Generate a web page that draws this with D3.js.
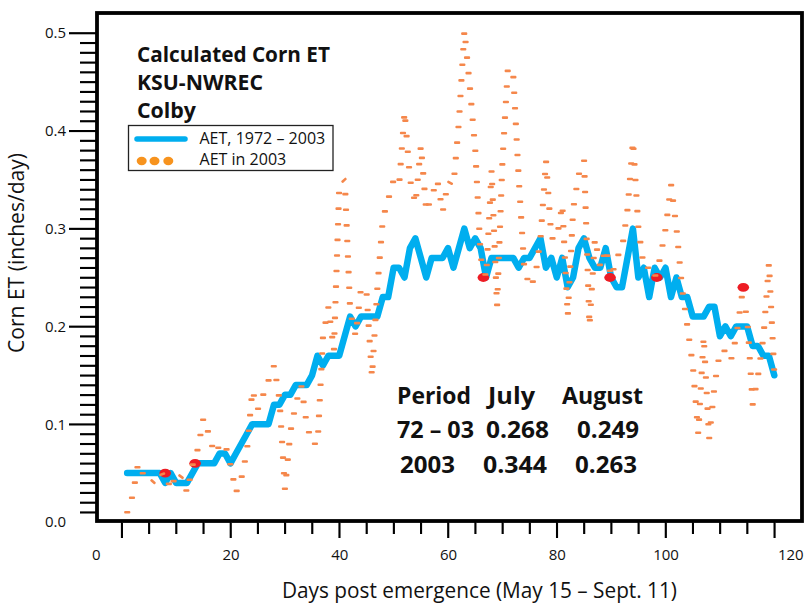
<!DOCTYPE html>
<html>
<head>
<meta charset="utf-8">
<title>Calculated Corn ET - KSU-NWREC Colby</title>
<script src="https://d3js.org/d3.v7.min.js"></script>
<style>
  body { margin: 0; background: #fff; }
  svg { display: block; font-family: 'Open Sans', sans-serif; }
  .tick text { font-size: 15px; fill: #111; font-family: 'Open Sans', sans-serif; }
  .domain { display: none; }
  .big { font-weight: bold; font-size: 21px; fill: #111; }
  .table { font-weight: bold; font-size: 23px; fill: #111; }
  .legend-text { font-size: 15.5px; fill: #111; }
  .axis-title { font-size: 21px; fill: #111; }
</style>
</head>
<body>
<svg id="chart" width="805" height="603"></svg>
<script>
// days post emergence (May 15 = day 1)
var firstDay = 1;

// AET, 1972 - 2003 average (inches/day), one value per day
var aetMean = [
  0.05, 0.05, 0.05, 0.05, 0.05, 0.05, 0.05, 0.04, 0.05, 0.04,
  0.04, 0.04, 0.05, 0.06, 0.06, 0.06, 0.06, 0.07, 0.07, 0.06,
  0.07, 0.08, 0.09, 0.10, 0.10, 0.10, 0.10, 0.12, 0.12, 0.13,
  0.13, 0.14, 0.14, 0.14, 0.15, 0.17, 0.16, 0.17, 0.17, 0.17,
  0.19, 0.21, 0.20, 0.21, 0.21, 0.21, 0.21, 0.23, 0.23, 0.26,
  0.26, 0.25, 0.28, 0.29, 0.27, 0.25, 0.27, 0.27, 0.27, 0.28,
  0.26, 0.28, 0.30, 0.28, 0.29, 0.28, 0.25, 0.27, 0.27, 0.27,
  0.27, 0.27, 0.26, 0.27, 0.27, 0.28, 0.29, 0.26, 0.27, 0.25,
  0.27, 0.24, 0.25, 0.28, 0.29, 0.27, 0.26, 0.26, 0.28, 0.25,
  0.24, 0.24, 0.27, 0.30, 0.25, 0.26, 0.23, 0.26, 0.25, 0.26,
  0.23, 0.25, 0.23, 0.23, 0.21, 0.21, 0.21, 0.22, 0.22, 0.19,
  0.20, 0.19, 0.20, 0.20, 0.20, 0.18, 0.18, 0.17, 0.17, 0.15
];

// AET in 2003 (inches/day), one value per day
var aet2003 = [
  0.010, 0.027, 0.060, 0.048, 0.045, 0.040, 0.048, 0.050, 0.033, 0.050,
  0.046, 0.030, 0.058, 0.075, 0.106, 0.090, 0.070, 0.078, 0.080, 0.058,
  0.030, 0.045, 0.072, 0.135, 0.115, 0.130, 0.145, 0.160, 0.125, 0.033,
  0.092, 0.121, 0.140, 0.100, 0.080, 0.080, 0.190, 0.220, 0.175, 0.345,
  0.350, 0.215, 0.190, 0.240, 0.235, 0.148, 0.240, 0.310, 0.330, 0.350,
  0.345, 0.420, 0.350, 0.325, 0.385, 0.317, 0.333, 0.350, 0.317, 0.348,
  0.345, 0.410, 0.503, 0.445, 0.380, 0.270, 0.250, 0.360, 0.220, 0.370,
  0.465, 0.455, 0.350, 0.260, 0.240, 0.250, 0.290, 0.370, 0.290, 0.290,
  0.325, 0.210, 0.320, 0.355, 0.370, 0.200, 0.290, 0.260, 0.280, 0.250,
  0.270, 0.280, 0.320, 0.390, 0.300, 0.260, 0.260, 0.250, 0.270, 0.300,
  0.345, 0.300, 0.240, 0.200, 0.160, 0.090, 0.190, 0.085, 0.140, 0.175,
  0.175, 0.165, 0.190, 0.230, 0.210, 0.120, 0.150, 0.190, 0.265, 0.150
];

// red markers on the chart
var markerDays = [8, 13.5, 66.5, 89.8, 98.4, 114.3];
var markerValues = [0.05, 0.06, 0.25, 0.25, 0.25, 0.24];

// axis ticks
var xMajorTicks = [0, 20, 40, 60, 80, 100, 120];
var xMinorTicks = [5, 10, 15, 25, 30, 35, 45, 50, 55, 65, 70, 75, 85, 90, 95, 105, 110, 115];
var yMajorTicks = [0, 0.1, 0.2, 0.3, 0.4, 0.5];

// text blocks
var titleLines = ["Calculated Corn ET", "KSU-NWREC", "Colby"];
var legendLabels = ["AET, 1972 \u2013 2003", "AET in 2003"];
var tableRows = [
  ["Period", "July", "August"],
  ["72 \u2013 03", "0.268", "0.249"],
  ["2003", "0.344", "0.263"]
];

var svg = d3.select("#chart");

// frame of the plot
var box = { left: 97, right: 802, top: 13, bottom: 521 };

var x = d3.scaleLinear().domain([0, 120]).range([121.7, 774.3]);
var y = d3.scaleLinear().domain([0, 0.5]).range([522, 33]);

var yMinorTicks = d3.range(1, 51).map(function(i) { return i / 100; })
  .filter(function(v) { return Math.round(v * 100) % 10 !== 0; });

// axes (labels + their own ticks)
svg.append("g")
  .attr("transform", "translate(96,0)")
  .call(d3.axisLeft(y).tickValues(yMinorTicks).tickSize(16).tickFormat(""));

var yAxis = svg.append("g")
  .attr("transform", "translate(96,0)")
  .call(d3.axisLeft(y).tickValues(yMajorTicks).tickSize(27).tickPadding(3).tickFormat(d3.format(".1f")));
yAxis.selectAll(".tick").filter(function(d) { return d === 0; }).select("line").remove();

svg.append("g")
  .attr("transform", "translate(0,523)")
  .call(d3.axisBottom(x).tickValues(xMinorTicks).tickSize(11).tickFormat(""));

var xAxis = svg.append("g")
  .attr("transform", "translate(0,523)")
  .call(d3.axisBottom(x).tickValues(xMajorTicks).tickSize(15).tickPadding(11).tickFormat(d3.format("d")));
// end labels sit off their ticks in the original
xAxis.selectAll(".tick text")
  .attr("dx", function(d) { return d === 0 ? -26 : (d === 120 ? 16 : 0); });

svg.selectAll(".tick line")
  .attr("stroke", "#000")
  .attr("stroke-width", 1.6);

// plot frame
svg.append("rect")
  .attr("x", box.left).attr("y", box.top)
  .attr("width", box.right - box.left).attr("height", box.bottom - box.top)
  .attr("fill", "none").attr("stroke", "#000").attr("stroke-width", 3.8);

// average AET line
var line = d3.line()
  .x(function(d, i) { return x(firstDay + i); })
  .y(function(d) { return y(d); });

svg.append("path")
  .datum(aetMean)
  .attr("d", line)
  .attr("fill", "none")
  .attr("stroke", "#00aeef")
  .attr("stroke-width", 6.5)
  .attr("stroke-linejoin", "round")
  .attr("stroke-linecap", "round");

// red markers
svg.append("g").selectAll("ellipse")
  .data(markerDays)
  .enter().append("ellipse")
  .attr("cx", function(d) { return x(d); })
  .attr("cy", function(d, i) { return y(markerValues[i]); })
  .attr("rx", 5.8).attr("ry", 4.4)
  .attr("fill", "#ed1c24");

// 2003 series: dotted line, dots walked along the path
var pts = aet2003.map(function(v, i) { return [x(firstDay + i), y(v)]; });
var step = 12.5, k = 0.8, next = 0, dots = [];
for (var i = 0; i < pts.length - 1; i++) {
  var p0 = pts[i], p1 = pts[i + 1];
  var dx = p1[0] - p0[0], dy = p1[1] - p0[1];
  var L = Math.sqrt(dx * dx + k * k * dy * dy);
  var ang = Math.abs(dy) < Math.abs(dx) ? Math.atan2(dy, dx) * 180 / Math.PI : 0;
  while (next <= L) {
    var t = next / L;
    dots.push({ x: p0[0] + dx * t, y: p0[1] + dy * t, a: ang });
    next += step;
  }
  next -= L;
}

svg.append("g").selectAll("rect")
  .data(dots)
  .enter().append("rect")
  .attr("x", function(d) { return d.x - 3; })
  .attr("y", function(d) { return d.y - 1.3; })
  .attr("width", 6.2).attr("height", 2.6)
  .attr("rx", 1)
  .attr("transform", function(d) { return "rotate(" + d.a + "," + d.x + "," + d.y + ")"; })
  .attr("fill", "#f5874b");

// title
var titleWidths = [193, 126, 59];
svg.append("g").selectAll("text")
  .data(titleLines)
  .enter().append("text")
  .attr("class", "big")
  .attr("x", 137)
  .attr("y", function(d, i) { return 62 + i * 28; })
  .attr("textLength", function(d, i) { return titleWidths[i]; })
  .attr("lengthAdjust", "spacingAndGlyphs")
  .text(function(d) { return d; });

// legend
svg.append("rect")
  .attr("x", 128.5).attr("y", 125.5).attr("width", 204.5).attr("height", 45)
  .attr("fill", "#fff").attr("stroke", "#222").attr("stroke-width", 1.3);
svg.append("line")
  .attr("x1", 137).attr("x2", 185).attr("y1", 139).attr("y2", 139)
  .attr("stroke", "#00aeef").attr("stroke-width", 5.5).attr("stroke-linecap", "round");
svg.append("g").selectAll("ellipse")
  .data([141.7, 154.5, 168.3])
  .enter().append("ellipse")
  .attr("cx", function(d) { return d; }).attr("cy", 161)
  .attr("rx", 5).attr("ry", 4.2)
  .attr("fill", "#f7931e");
var legendWidths = [125.7, 86.7];
svg.append("g").selectAll("text")
  .data(legendLabels)
  .enter().append("text")
  .attr("class", "legend-text")
  .attr("x", 199.5)
  .attr("y", function(d, i) { return 143.5 + i * 21.2; })
  .attr("textLength", function(d, i) { return legendWidths[i]; })
  .attr("lengthAdjust", "spacingAndGlyphs")
  .text(function(d) { return d; });

// summary table
var colX = [[397, 488, 562], [397, 486, 577], [400, 483, 575]];
var colW = [[74, 47, 81], [77, 63, 62], [55, 64, 62]];
var rowY = [404, 438, 473];
tableRows.forEach(function(row, r) {
  svg.append("g").selectAll("text")
    .data(row)
    .enter().append("text")
    .attr("class", "table")
    .attr("x", function(d, c) { return colX[r][c]; })
    .attr("y", rowY[r])
    .attr("textLength", function(d, c) { return colW[r][c]; })
    .attr("lengthAdjust", "spacingAndGlyphs")
    .text(function(d) { return d; });
});

// axis titles
svg.append("text")
  .attr("class", "axis-title")
  .attr("x", 479.5).attr("y", 598)
  .attr("text-anchor", "middle")
  .attr("textLength", 395)
  .attr("lengthAdjust", "spacingAndGlyphs")
  .text("Days post emergence (May 15 \u2013 Sept. 11)");

svg.append("text")
  .attr("class", "axis-title")
  .attr("transform", "translate(24,253) rotate(-90)")
  .attr("text-anchor", "middle")
  .attr("textLength", 200)
  .attr("lengthAdjust", "spacingAndGlyphs")
  .text("Corn ET (inches/day)");

// tick marks once more as filled bars, fill set on each element
var tickBars = []
  .concat(yMinorTicks.map(function(d) { return { x: 80, y: y(d) - 0.8, w: 17, h: 1.6 }; }))
  .concat(yMajorTicks.filter(function(d) { return d > 0; })
    .map(function(d) { return { x: 69, y: y(d) - 0.8, w: 28, h: 1.6 }; }))
  .concat(xMinorTicks.map(function(d) { return { x: x(d) - 0.8, y: 521, w: 1.6, h: 13 }; }))
  .concat(xMajorTicks.map(function(d) { return { x: x(d) - 0.8, y: 521, w: 1.6, h: 17 }; }));

svg.append("g").selectAll("rect")
  .data(tickBars)
  .enter().append("rect")
  .attr("x", function(d) { return d.x; })
  .attr("y", function(d) { return d.y; })
  .attr("width", function(d) { return d.w; })
  .attr("height", function(d) { return d.h; })
  .attr("fill", "#000");
</script>
</body>
</html>
